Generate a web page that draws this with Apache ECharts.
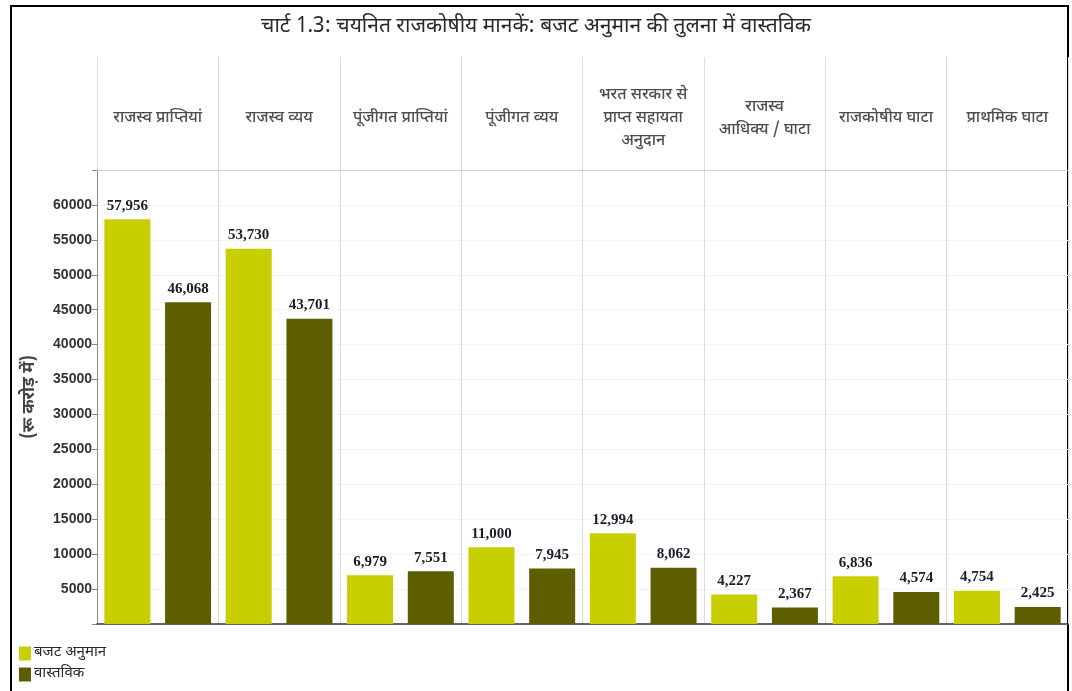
<!DOCTYPE html>
<html>
<head>
<meta charset="utf-8">
<script src="https://cdn.jsdelivr.net/npm/echarts@6/dist/echarts.min.js"></script>
<style>
  html, body { margin: 0; padding: 0; background: #fff; }
  #chart { width: 1072px; height: 691px; }
</style>
</head>
<body>
<div id="chart"></div>
<script>
// Selected fiscal parameters: budget estimates vs actuals (₹ crore)
const categories = [
  'राजस्व प्राप्तियां',
  'राजस्व व्यय',
  'पूंजीगत प्राप्तियां',
  'पूंजीगत व्यय',
  'भरत सरकार से\nप्राप्त सहायता\nअनुदान',
  'राजस्व\nआधिक्य / घाटा',
  'राजकोषीय घाटा',
  'प्राथमिक घाटा'
];
const budgetEstimates = [57956, 53730, 6979, 11000, 12994, 4227, 6836, 4754];
const actuals = [46068, 43701, 7551, 7945, 8062, 2367, 4574, 2425];
const seriesNames = ['बजट अनुमान', 'वास्तविक'];
const titleText = 'चार्ट 1.3: चयनित राजकोषीय मानकें: बजट अनुमान की तुलना में वास्तविक';
const yAxisName = '(रू करोड़ में)';

const deva = '"Noto Sans Devanagari", "Noto Sans", "Lohit Devanagari", sans-serif';
const narrow = '"Liberation Sans Narrow", "Liberation Sans", Arial, sans-serif';
const serif = '"Liberation Serif", "Times New Roman", serif';

const chart = echarts.init(document.getElementById('chart'));

const valueLabel = {
  show: true,
  position: 'top',
  distance: 6,
  fontFamily: serif,
  fontWeight: 'bold',
  fontSize: 15,
  color: '#1c1c2a',
  formatter: p => p.value.toLocaleString('en-US')
};

chart.setOption({
  backgroundColor: '#fff',
  animation: false,
  title: {
    text: titleText,
    left: 'center',
    top: 13,
    textStyle: { fontFamily: deva, fontSize: 21, fontWeight: 'normal', color: '#2a2a2a' }
  },
  legend: {
    orient: 'vertical',
    left: 14,
    top: 641,
    itemWidth: 12,
    itemHeight: 14,
    itemGap: 6,
    icon: 'rect',
    data: seriesNames,
    textStyle: { fontFamily: deva, fontSize: 15, color: '#2a2a2a', padding: [0, 0, 0, -2] }
  },
  graphic: [{
    type: 'rect',
    shape: { x: 11, y: 6, width: 1057, height: 700 },
    style: { fill: 'none', stroke: '#000', lineWidth: 2 },
    silent: true
  }],
  grid: [
    { left: 97, right: 4, top: 170, bottom: 67 },
    { left: 97, right: 4, top: 57, height: 113 }
  ],
  xAxis: [
    {
      type: 'category',
      gridIndex: 0,
      data: categories,
      axisLine: { lineStyle: { color: '#333', width: 1.5 } },
      axisTick: { show: false },
      axisLabel: { show: false },
      splitLine: { show: true, lineStyle: { color: '#dcdcdc' } }
    },
    {
      type: 'category',
      gridIndex: 1,
      data: categories,
      axisLine: { show: true, lineStyle: { color: '#cfcfcf' } },
      axisTick: { show: false },
      axisLabel: { show: false },
      splitLine: { show: true, lineStyle: { color: '#dcdcdc' } }
    }
  ],
  yAxis: [
    {
      type: 'value',
      gridIndex: 0,
      min: 0,
      max: 65000,
      interval: 5000,
      name: yAxisName,
      nameLocation: 'middle',
      nameGap: 58,
      nameTextStyle: { fontFamily: deva, fontSize: 17, fontWeight: 'bold', color: '#444' },
      axisLine: { show: true, lineStyle: { color: '#888' } },
      axisTick: { show: true, length: 5, lineStyle: { color: '#888' } },
      axisLabel: {
        fontFamily: narrow,
        fontWeight: 'bold',
        fontSize: 14,
        color: '#333',
        margin: 5,
        formatter: v => (v === 0 || v === 65000) ? '' : String(v)
      },
      splitLine: { show: true, lineStyle: { color: '#f3f3f3' } }
    },
    {
      type: 'value',
      gridIndex: 1,
      min: 0,
      max: 1,
      show: false
    }
  ],
  series: [
    {
      name: seriesNames[0],
      type: 'bar',
      xAxisIndex: 0,
      yAxisIndex: 0,
      data: budgetEstimates,
      barWidth: 46,
      barGap: '32%',
      itemStyle: { color: '#c8cf00' },
      label: valueLabel
    },
    {
      name: seriesNames[1],
      type: 'bar',
      xAxisIndex: 0,
      yAxisIndex: 0,
      data: actuals,
      barWidth: 46,
      barGap: '32%',
      itemStyle: { color: '#5e5e00' },
      label: valueLabel
    },
    {
      // column headings drawn in the band above the plot
      type: 'scatter',
      xAxisIndex: 1,
      yAxisIndex: 1,
      symbolSize: 0,
      silent: true,
      data: categories.map(c => [c, 0.45]),
      label: {
        show: true,
        position: 'inside',
        formatter: p => p.value[0],
        fontFamily: deva,
        fontSize: 16,
        lineHeight: 23,
        fontWeight: 500,
        color: '#222',
        align: 'center',
        verticalAlign: 'middle'
      }
    }
  ]
});
</script>
</body>
</html>
